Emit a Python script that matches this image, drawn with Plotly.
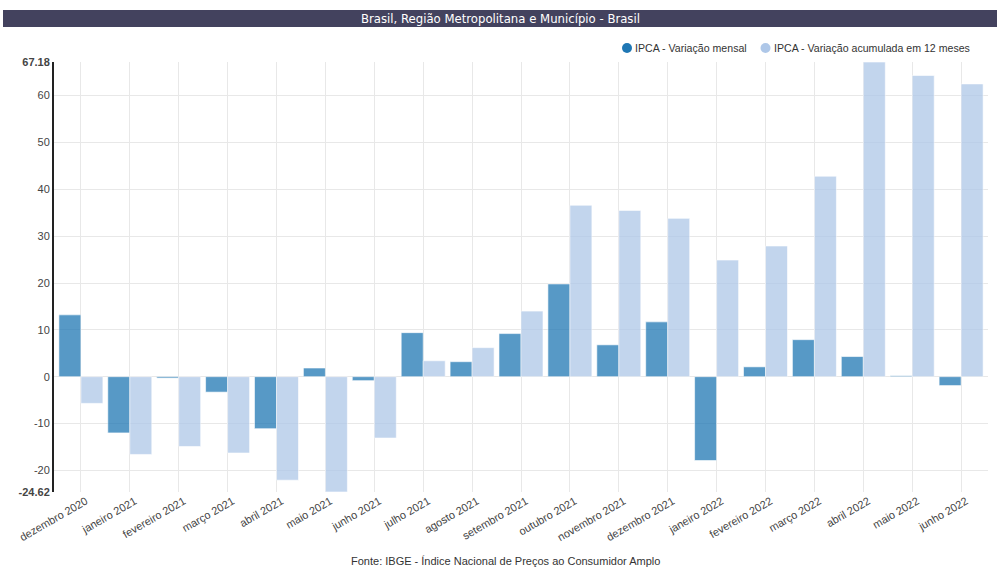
import plotly.graph_objects as go

categories = ["dezembro 2020", "janeiro 2021", "fevereiro 2021", "março 2021", "abril 2021",
              "maio 2021", "junho 2021", "julho 2021", "agosto 2021", "setembro 2021",
              "outubro 2021", "novembro 2021", "dezembro 2021", "janeiro 2022", "fevereiro 2022",
              "março 2022", "abril 2022", "maio 2022", "junho 2022"]
mensal = [13.2, -12.0, -0.3, -3.3, -11.1, 1.85, -0.85, 9.4, 3.2, 9.2,
          19.8, 6.8, 11.7, -17.9, 2.1, 7.9, 4.3, 0.2, -1.9]
acumulada = [-5.7, -16.6, -14.9, -16.3, -22.1, -24.62, -13.1, 3.4, 6.2, 14.0,
             36.6, 35.5, 33.8, 24.9, 27.9, 42.8, 67.18, 64.3, 62.5]
ytick_vals = [-24.62, -20, -10, 0, 10, 20, 30, 40, 50, 60, 67.18]
ytick_text = ["<b>-24.62</b>", "-20", "-10", "0", "10", "20", "30", "40", "50", "60", "<b>67.18</b>"]
name_m = "IPCA - Variação mensal"
name_a = "IPCA - Variação acumulada em 12 meses"
color_m = "#1f77b4"
color_a = "#aec7e8"
title = "Brasil, Região Metropolitana e Município - Brasil"
source = "Fonte: IBGE - Índice Nacional de Preços ao Consumidor Amplo"

fig = go.Figure()
fig.add_trace(go.Bar(x=list(range(len(categories))), y=mensal, name=name_m,
                     marker=dict(color=color_m, opacity=0.75,
                                 line=dict(color="rgba(255,255,255,0.6)", width=1)),
                     showlegend=False))
fig.add_trace(go.Bar(x=list(range(len(categories))), y=acumulada, name=name_a,
                     marker=dict(color=color_a, opacity=0.75,
                                 line=dict(color="rgba(255,255,255,0.6)", width=1)),
                     showlegend=False))

# helpers: pixel -> paper coordinates (plot area x 54..988, y 62..492)
def px(x):
    return (x - 54) / 934

def py(y):
    return (492 - y) / 430

leg_y = py(48)
legend_shapes = [
    dict(type="circle", xref="paper", yref="paper", xsizemode="pixel", ysizemode="pixel",
         xanchor=px(627), yanchor=leg_y, x0=-5, x1=5, y0=-5, y1=5,
         fillcolor=color_m, line=dict(width=0)),
    dict(type="circle", xref="paper", yref="paper", xsizemode="pixel", ysizemode="pixel",
         xanchor=px(765.5), yanchor=leg_y, x0=-5, x1=5, y0=-5, y1=5,
         fillcolor=color_a, line=dict(width=0)),
]

fig.update_layout(
    width=1000, height=567,
    margin=dict(l=54, r=12, t=62, b=75),
    paper_bgcolor="white", plot_bgcolor="white",
    barmode="group", bargap=0.1, bargroupgap=0,
    showlegend=False,
    font=dict(family="Arial, Liberation Sans, sans-serif", size=11, color="#444"),
    xaxis=dict(range=[-0.55, 18.55], tickmode="array",
               tickvals=list(range(len(categories))), ticktext=categories,
               tickangle=-30, ticklabelshift=5, showgrid=True, gridcolor="#e8e8e8", gridwidth=1,
               showline=False, zeroline=False, ticks="", tickfont=dict(size=11, color="#444")),
    yaxis=dict(range=[-24.62, 67.18], tickmode="array", tickvals=ytick_vals,
               ticktext=ytick_text, showgrid=True, gridcolor="#e8e8e8", gridwidth=1,
               zeroline=False, showline=True, linecolor="#222", linewidth=2,
               ticks="", tickfont=dict(size=11, color="#444")),
    shapes=[dict(type="rect", xref="paper", yref="paper",
                 x0=px(3), x1=px(997), y0=py(27), y1=py(10),
                 fillcolor="#43425e", line=dict(width=0), layer="above")] + legend_shapes,
    annotations=[
        dict(text=title, xref="paper", yref="paper", x=px(500), y=py(18.5),
             xanchor="center", yanchor="middle", showarrow=False,
             font=dict(family="Liberation Sans Narrow, DejaVu Sans Condensed, sans-serif",
                       size=13, color="white")),
        dict(text=name_m, xref="paper", yref="paper", x=px(633), y=leg_y,
             xanchor="left", yanchor="middle", showarrow=False,
             font=dict(size=10.6, color="#333")),
        dict(text=name_a, xref="paper", yref="paper", x=px(771.5), y=leg_y,
             xanchor="left", yanchor="middle", showarrow=False,
             font=dict(size=10.6, color="#333")),
        dict(text=source, xref="paper", yref="paper", x=px(505), y=py(561),
             xanchor="center", yanchor="middle", showarrow=False,
             font=dict(size=11, color="#333")),
    ],
)
fig.write_html("out.html")
